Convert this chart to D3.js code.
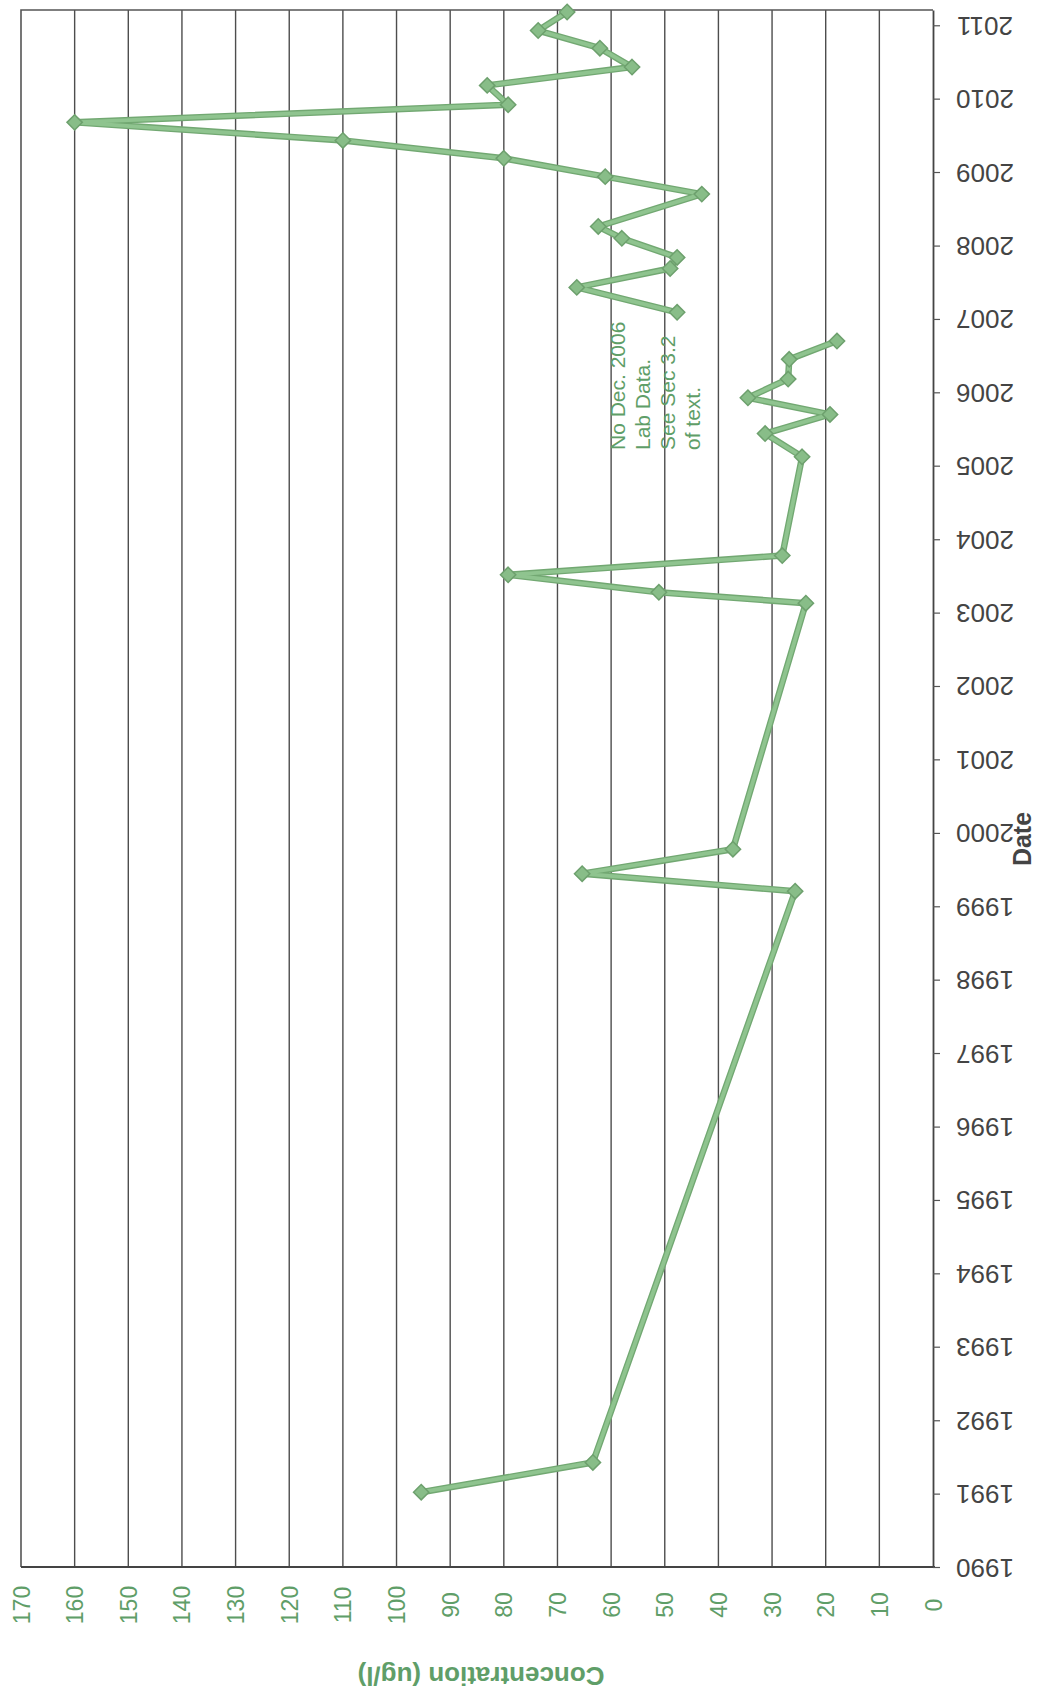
<!DOCTYPE html>
<html>
<head>
<meta charset="utf-8">
<script src="https://cdn.jsdelivr.net/npm/d3@7"></script>
<style>
  html, body { margin: 0; padding: 0; background: #fff; }
  svg { display: block; }
  text { font-family: "Liberation Sans", Arial, sans-serif; }
</style>
</head>
<body>
<svg id="chart" width="1042" height="1696"></svg>
<script>
// Sampling dates (null value = no lab result for that round)
const sampleDates = [
  "1991-01-08", "1991-06-05",
  "1999-03-17", "1999-06-12", "1999-10-12",
  "2003-02-17", "2003-04-12", "2003-07-08", "2003-10-12",
  "2005-02-14", "2005-06-10", "2005-09-13", "2005-12-05",
  "2006-03-08", "2006-06-14", "2006-09-13",
  "2006-12-10",
  "2007-02-03", "2007-06-07", "2007-09-09", "2007-11-03",
  "2008-02-06", "2008-04-05", "2008-09-13", "2008-12-09",
  "2009-03-10", "2009-06-07", "2009-09-05", "2009-12-02",
  "2010-03-08", "2010-06-07", "2010-09-09", "2010-12-06",
  "2011-03-08"
];
// Concentration, ug/l
const concentration = [
  95.4, 63.4,
  25.7, 65.4, 37.3,
  23.7, 51.1, 79.2, 28.1,
  24.4, 31.3, 19.2, 34.5,
  27.0, 26.8, 17.9,
  null,
  47.7, 66.4, 49.0, 47.7,
  58.0, 62.4, 43.1, 61.1,
  80, 110, 160, 79.2,
  83.1, 56.1, 62.1, 73.6,
  68.2
];
const concTicks = [0, 10, 20, 30, 40, 50, 60, 70, 80, 90, 100, 110, 120, 130, 140, 150, 160, 170];
const noteLines = ["No Dec. 2006", "Lab Data.", "See Sec 3.2", "of text."];
const xTitle = "Concentration (ug/l)";
const dateTitle = "Date";

const parse = d3.timeParse("%Y-%m-%d");
const rows = sampleDates.map((d, i) => ({ date: parse(d), value: concentration[i] }));

const svg = d3.select("#chart");

// Page is laid out sideways: time runs bottom-to-top, concentration right-to-left
const plot = { left: 21, right: 933, top: 10, bottom: 1567 };
const y = d3.scaleTime()
  .domain([parse("1990-01-01"), parse("2011-03-18")])
  .range([plot.bottom, plot.top]);
const x = d3.scaleLinear().domain([0, 170]).range([plot.right, plot.left]);

const green = "#5f9e68";
const gridColor = "#4d4d4d";

// Gridlines
svg.append("g")
  .selectAll("line")
  .data(concTicks.filter(v => v > 0 && v < 170))
  .join("line")
  .attr("x1", d => x(d)).attr("x2", d => x(d))
  .attr("y1", plot.top).attr("y2", plot.bottom)
  .attr("stroke", gridColor).attr("stroke-width", 1.4);

// Plot frame (left and top)
svg.append("path")
  .attr("d", `M${plot.right},${plot.top}H${plot.left}V${plot.bottom}`)
  .attr("fill", "none").attr("stroke", "#555").attr("stroke-width", 1.6);

// Concentration axis along the bottom
const xAxis = svg.append("g")
  .attr("transform", `translate(0,${plot.bottom})`)
  .call(d3.axisBottom(x).tickValues(concTicks).tickSize(0).tickPadding(0));
xAxis.select(".domain").attr("stroke", "#444").attr("stroke-width", 1.8)
  .attr("d", `M${plot.left},0H${plot.right + 2}`);
xAxis.selectAll(".tick text")
  .attr("fill", green)
  .attr("font-size", 23)
  .attr("y", 0).attr("dy", null)
  .attr("text-anchor", "middle")
  .attr("dominant-baseline", "central")
  .attr("transform", "translate(0,38) rotate(-90)");

// Date axis on the right
const yAxis = svg.append("g")
  .attr("transform", `translate(${plot.right},0)`)
  .call(d3.axisRight(y).ticks(d3.timeYear.every(1)).tickFormat(d3.timeFormat("%Y"))
    .tickSize(7).tickSizeOuter(0).tickPadding(0));
yAxis.select(".domain").attr("stroke", "#444").attr("stroke-width", 1.8);
yAxis.selectAll(".tick line").attr("stroke", "#555").attr("stroke-width", 1.2);
yAxis.selectAll(".tick text")
  .attr("fill", "#444")
  .attr("font-size", 26)
  .attr("x", 0).attr("dy", null)
  .attr("text-anchor", "middle")
  .attr("dominant-baseline", "central")
  .attr("transform", "translate(52,0) rotate(180)");

// Axis titles
svg.append("text")
  .attr("transform", `translate(${(plot.left + plot.right) / 2 + 4},1676) rotate(180)`)
  .attr("text-anchor", "middle").attr("dominant-baseline", "central")
  .attr("font-size", 26).attr("font-weight", "bold").attr("fill", green)
  .text(xTitle);
svg.append("text")
  .attr("transform", "translate(1022,839) rotate(-90)")
  .attr("text-anchor", "middle").attr("dominant-baseline", "central")
  .attr("font-size", 25).attr("font-weight", "bold").attr("fill", "#444")
  .text(dateTitle);

// Concentration series: darker outer stroke with a lighter core, diamond markers
const line = d3.line()
  .defined(d => d.value != null)
  .x(d => x(d.value))
  .y(d => y(d.date));
const series = svg.append("g");
series.append("path").datum(rows)
  .attr("d", line).attr("fill", "none")
  .attr("stroke", "#72a872").attr("stroke-width", 6.5)
  .attr("stroke-linejoin", "round");
series.append("path").datum(rows)
  .attr("d", line).attr("fill", "none")
  .attr("stroke", "#8fc48f").attr("stroke-width", 3.8)
  .attr("stroke-linejoin", "round");
series.selectAll("path.marker")
  .data(rows.filter(d => d.value != null))
  .join("path")
  .attr("class", "marker")
  .attr("d", d3.symbol(d3.symbolDiamond2, 150))
  .attr("transform", d => `translate(${x(d.value)},${y(d.date)})`)
  .attr("fill", "#88bd88").attr("stroke", "#6da06d").attr("stroke-width", 1.5);

// Note about the missing sampling round
svg.append("g")
  .selectAll("text")
  .data(noteLines)
  .join("text")
  .attr("transform", (d, i) => `translate(${617 + i * 25},450) rotate(-90)`)
  .attr("text-anchor", "start").attr("dominant-baseline", "central")
  .attr("font-size", 21).attr("fill", green)
  .text(d => d);
</script>
</body>
</html>
